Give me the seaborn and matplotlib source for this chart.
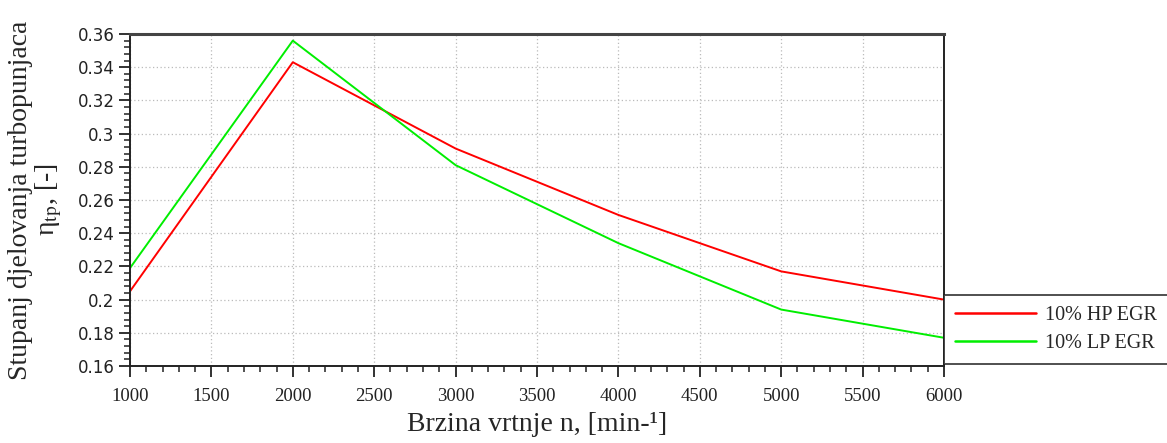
import numpy as np
import pandas as pd
import matplotlib
matplotlib.use("Agg")
import matplotlib.pyplot as plt
from matplotlib.ticker import MultipleLocator, FuncFormatter
import seaborn as sns

# data
rpm = [1000, 2000, 3000, 4000, 5000, 6000]
hp_egr = [0.205, 0.343, 0.291, 0.251, 0.217, 0.200]
lp_egr = [0.219, 0.356, 0.281, 0.234, 0.194, 0.177]
series_names = ["10% HP EGR", "10% LP EGR"]
series_colors = ["#ff0000", "#00ee00"]

df = pd.DataFrame({
    "rpm": rpm * 2,
    "eta": hp_egr + lp_egr,
    "series": [series_names[0]] * len(rpm) + [series_names[1]] * len(rpm),
})

sns.set_style("white")
plt.rcParams["font.family"] = ["Liberation Serif", "DejaVu Serif"]
plt.rcParams["mathtext.fontset"] = "stix"

fig = plt.figure(figsize=(11.67, 4.43), dpi=100)
ax = fig.add_axes([130 / 1167, 1 - 366 / 443, (944 - 130) / 1167, (366 - 34) / 443])

sns.lineplot(data=df, x="rpm", y="eta", hue="series", palette=series_colors,
             linewidth=1.4, ax=ax, legend=False)

ax.set_xlim(1000, 6000)
ax.set_ylim(0.16, 0.36)
ax.xaxis.set_major_locator(MultipleLocator(500))
ax.xaxis.set_minor_locator(MultipleLocator(100))
ax.yaxis.set_major_locator(MultipleLocator(0.02))
ax.yaxis.set_minor_locator(MultipleLocator(0.004))
ax.yaxis.set_major_formatter(FuncFormatter(lambda v, p: "%g" % round(v, 3)))
ax.tick_params(which="major", direction="out", length=8, width=1.3,
               colors="#222222", left=True, bottom=True)
ax.tick_params(which="minor", direction="out", length=4, width=1.1,
               colors="#222222", left=True, bottom=True)
ax.tick_params(axis="x", which="major", pad=8, labelsize=13.5, labelcolor="#222222")
ax.tick_params(axis="y", which="major", pad=3, labelsize=12, labelcolor="#222222")
for lbl in ax.get_yticklabels():
    lbl.set_family("DejaVu Sans")
ax.grid(True, which="major", linestyle=(0, (1, 2)), color="#bbbbbb", linewidth=0.9)

for side in ["left", "bottom", "top", "right"]:
    ax.spines[side].set_visible(True)
    ax.spines[side].set_color("#222222")
    ax.spines[side].set_linewidth(1.4)
ax.spines["top"].set_linewidth(2.2)
ax.spines["top"].set_color("#444444")

ax.set_xlabel("Brzina vrtnje n, [min-¹]", fontsize=20, labelpad=5)
ax.set_ylabel("Stupanj djelovanja turbopunjaca\nη$_{\\mathrm{tp}}$, [-]",
              fontsize=20, linespacing=1.0, labelpad=10)

handles = [plt.Line2D([], [], color=c, linewidth=1.8) for c in series_colors]
leg = ax.legend(handles, series_names, loc="upper left",
                bbox_to_anchor=(1.0, 0.0, 0.3, (366 - 295) / 332),
                mode="expand", borderaxespad=0, frameon=True, fancybox=False,
                fontsize=14.5, handlelength=4.0, handletextpad=0.45,
                labelspacing=0.45, borderpad=0.55)
leg.get_frame().set_edgecolor("#222222")
leg.get_frame().set_linewidth(1.4)

fig.savefig("out.png", dpi=100)
